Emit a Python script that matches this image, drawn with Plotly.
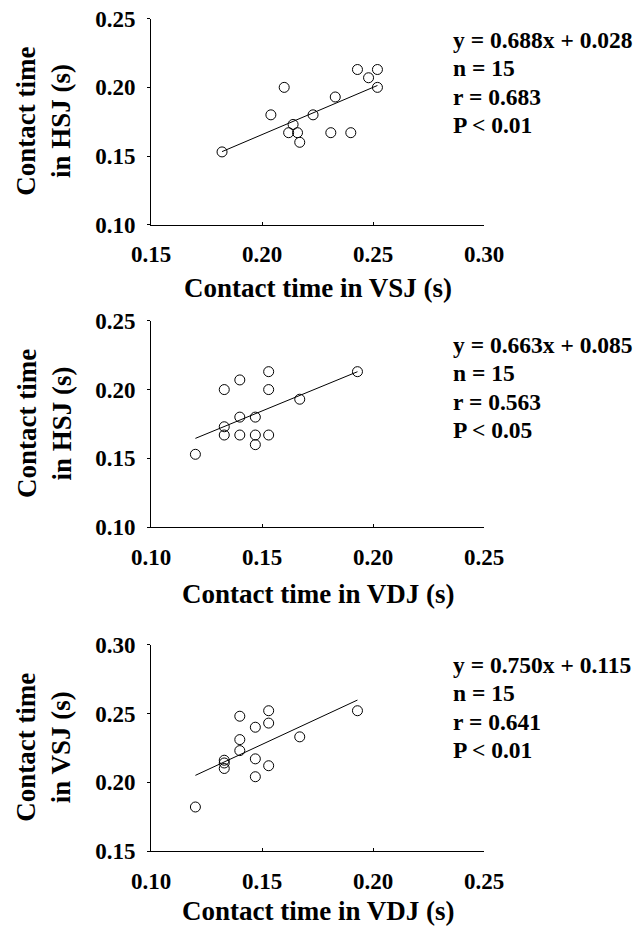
import plotly.graph_objects as go

# Panel 1: VSJ vs HSJ
vsj1 = [0.182, 0.204, 0.210, 0.214, 0.212, 0.216, 0.217, 0.223, 0.231, 0.233, 0.240, 0.243, 0.248, 0.252, 0.252]
hsj1 = [0.153, 0.180, 0.200, 0.173, 0.167, 0.167, 0.160, 0.180, 0.167, 0.193, 0.167, 0.213, 0.207, 0.213, 0.200]
# Panel 2: VDJ vs HSJ
vdj2 = [0.120, 0.133, 0.133, 0.133, 0.140, 0.140, 0.140, 0.147, 0.147, 0.147, 0.153, 0.153, 0.153, 0.167, 0.193]
hsj2 = [0.153, 0.200, 0.173, 0.167, 0.207, 0.180, 0.167, 0.180, 0.167, 0.160, 0.213, 0.200, 0.167, 0.193, 0.213]
# Panel 3: VDJ vs VSJ
vdj3 = [0.120, 0.133, 0.133, 0.133, 0.140, 0.140, 0.140, 0.147, 0.147, 0.147, 0.153, 0.153, 0.153, 0.167, 0.193]
vsj3 = [0.182, 0.216, 0.214, 0.210, 0.248, 0.231, 0.223, 0.240, 0.217, 0.204, 0.252, 0.243, 0.212, 0.233, 0.252]

fits = [(0.688, 0.028), (0.663, 0.085), (0.750, 0.115)]
stats = [
    ["y = 0.688x + 0.028", "n = 15", "r = 0.683", "P < 0.01"],
    ["y = 0.663x + 0.085", "n = 15", "r = 0.563", "P < 0.05"],
    ["y = 0.750x + 0.115", "n = 15", "r = 0.641", "P < 0.01"],
]
x_titles = ["Contact time in VSJ (s)", "Contact time in VDJ (s)", "Contact time in VDJ (s)"]
y_titles = ["Contact time<br>in HSJ (s)", "Contact time<br>in HSJ (s)", "Contact time<br>in VSJ (s)"]
x_ranges = [(0.15, 0.30), (0.10, 0.25), (0.10, 0.25)]
y_ranges = [(0.10, 0.25), (0.10, 0.25), (0.15, 0.30)]

panels = [(vsj1, hsj1), (vdj2, hsj2), (vdj3, vsj3)]

W, H = 643, 926
OFF = 8  # default page body margin
FONT = "Liberation Serif, Times New Roman, serif"


def px_x(p):
    return (p - OFF) / W


def px_y(p):
    return 1 - (p - OFF) / H


# page-pixel layout (top, bottom) of each plot area
area_y = [(18.7, 224.7), (320.7, 527.3), (644.7, 851.0)]
area_x = (151, 484)
xtitle_y = [288, 594, 911]
stats_y0 = [40, 345, 665]
stats_dy = 28.3

fig = go.Figure()
annotations = []
layout = {}
for i, ((xs, ys), (m, b)) in enumerate(zip(panels, fits)):
    k = "" if i == 0 else str(i + 1)
    xa, ya = "x" + k, "y" + k
    fig.add_trace(go.Scatter(x=xs, y=ys, mode="markers", xaxis=xa, yaxis=ya,
                             marker=dict(symbol="circle-open", size=10, color="black",
                                         line=dict(width=1, color="black")),
                             showlegend=False, hoverinfo="skip"))
    lx = [min(xs), max(xs)]
    fig.add_trace(go.Scatter(x=lx, y=[m * v + b for v in lx], mode="lines", xaxis=xa, yaxis=ya,
                             line=dict(color="black", width=1), showlegend=False, hoverinfo="skip"))
    top, bot = area_y[i]
    common = dict(showline=True, linecolor="black", linewidth=1, showgrid=False, zeroline=False,
                  mirror=False, tickformat=".2f", dtick=0.05, ticklen=3, tickwidth=1,
                  tickcolor="black", automargin=False, ticklabeloverflow="allow",
                  tickfont=dict(family=FONT, size=23, color="black", weight="bold"))
    layout["xaxis" + k] = dict(common, domain=[px_x(area_x[0]), px_x(area_x[1])],
                               range=list(x_ranges[i]), anchor=ya, ticks="inside",
                               tick0=x_ranges[i][0], ticklabelstandoff=9)
    layout["yaxis" + k] = dict(common, domain=[px_y(bot), px_y(top)], range=list(y_ranges[i]),
                               anchor=xa, ticks="outside", tick0=y_ranges[i][0],
                               ticklabelstandoff=7)
    annotations.append(dict(text="<b>" + x_titles[i] + "</b>", xref="paper", yref="paper",
                            x=px_x((area_x[0] + area_x[1]) / 2), y=px_y(xtitle_y[i]),
                            xanchor="center", yanchor="middle", showarrow=False,
                            font=dict(family=FONT, size=27, color="black")))
    annotations.append(dict(text="<b>" + y_titles[i] + "</b>", xref="paper", yref="paper",
                            x=px_x(44), y=px_y((top + bot) / 2), textangle=-90,
                            xanchor="center", yanchor="middle", showarrow=False,
                            font=dict(family=FONT, size=27, color="black")))
    for j, line in enumerate(stats[i]):
        annotations.append(dict(text="<b>" + line + "</b>", xref="paper", yref="paper",
                                x=px_x(451), y=px_y(stats_y0[i] + j * stats_dy),
                                xanchor="left", yanchor="middle", align="left", showarrow=False,
                                font=dict(family=FONT, size=23.5, color="black")))

fig.update_layout(width=W, height=H, margin=dict(l=0, r=0, t=0, b=0, pad=0, autoexpand=False),
                  paper_bgcolor="white", plot_bgcolor="white",
                  annotations=annotations, **layout)
fig.write_html("out.html")
